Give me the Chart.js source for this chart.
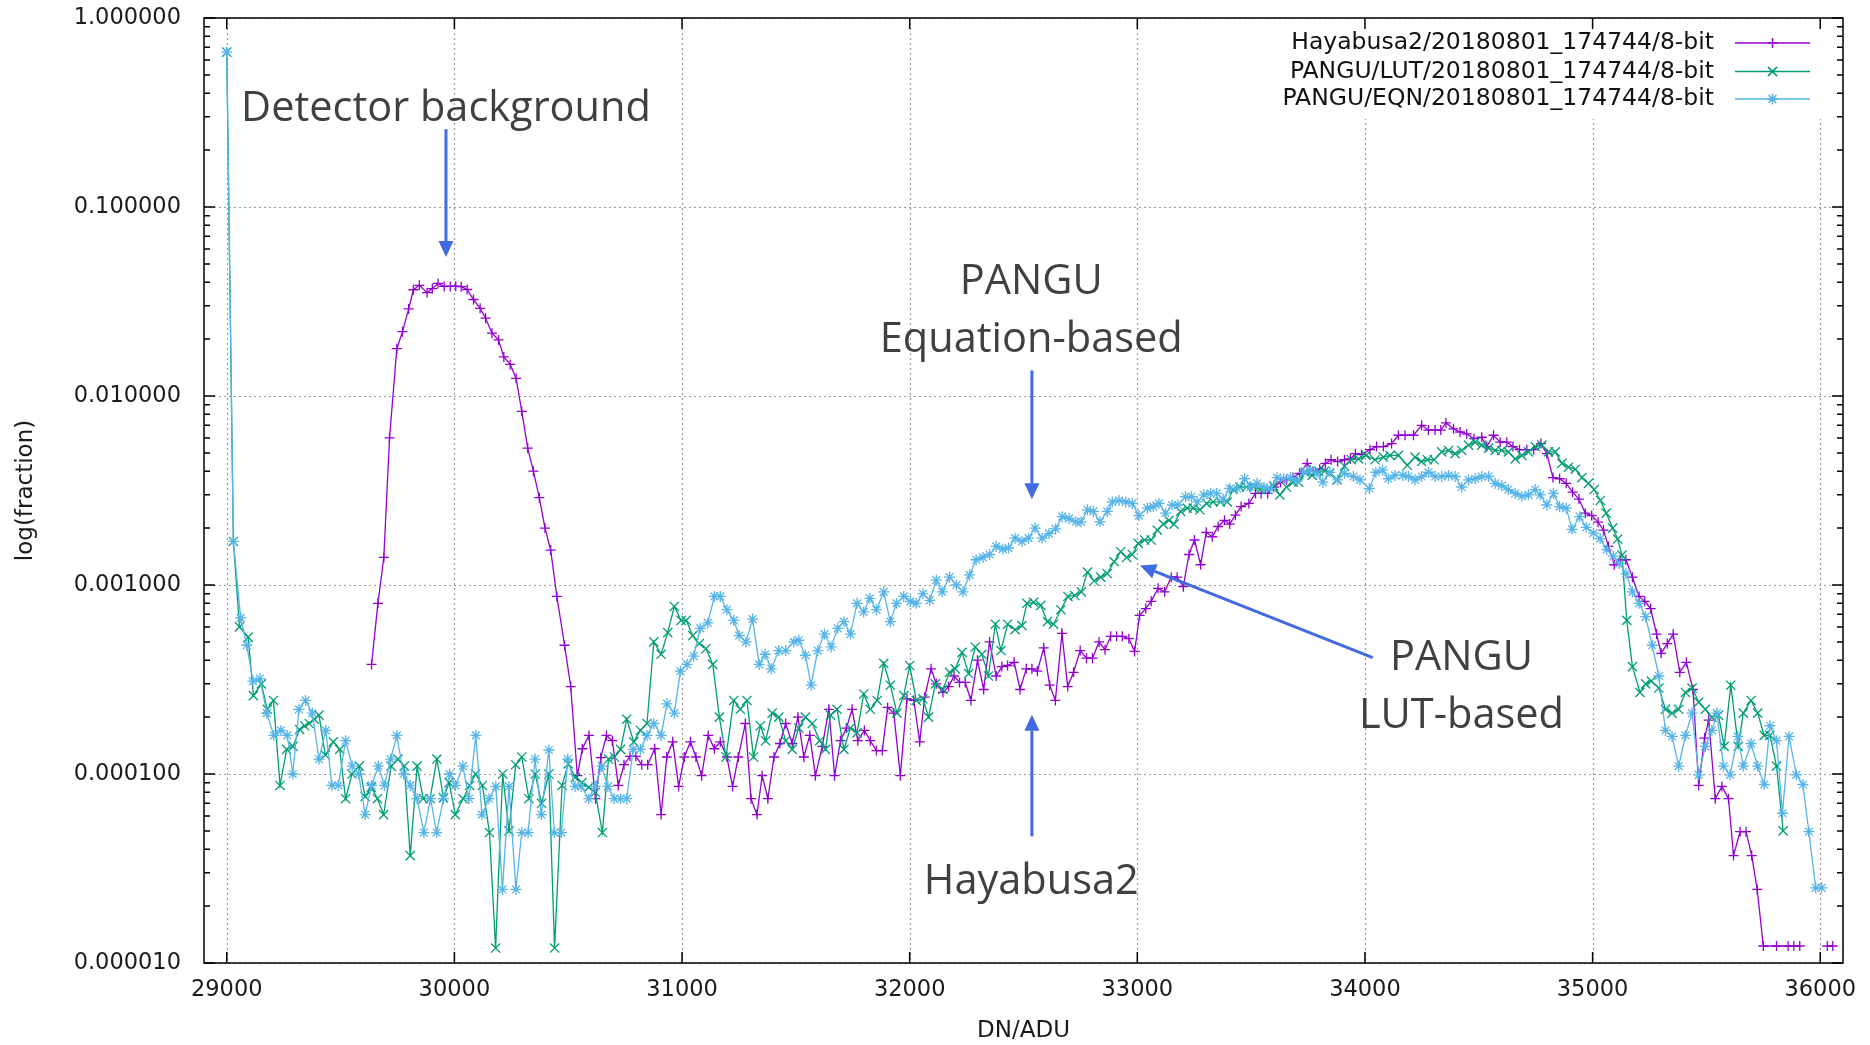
<!DOCTYPE html>
<html><head><meta charset="utf-8">
<script src="https://cdn.jsdelivr.net/npm/chart.js@4.4.1/dist/chart.umd.min.js"></script>
<style>html,body{margin:0;padding:0;background:#fff}#wrap{width:1870px;height:1045px;position:relative}</style>
</head><body><div id="wrap"><canvas id="c" width="1870" height="1045"></canvas></div>
<script>
const xTicks = [29000,30000,31000,32000,33000,34000,35000,36000];
const yTicks = [0.00001,0.0001,0.001,0.01,0.1,1];
const seriesNames = ['Hayabusa2/20180801_174744/8-bit','PANGU/LUT/20180801_174744/8-bit','PANGU/EQN/20180801_174744/8-bit'];

const hayDN = [29636,29664,29690,29715,29747,29772,29799,29820,29846,29880,29903,29928,29955,29982,30006,30030,30056,30084,30113,30137,
30165,30194,30217,30245,30271,30296,30322,30347,30373,30398,30423,30450,30484,30511,30540,30562,30591,30620,30643,30668,
30694,30720,30745,30771,30797,30823,30849,30880,30908,30933,30959,30985,31010,31037,31061,31086,31115,31142,31168,31197,
31222,31247,31278,31303,31329,31352,31377,31404,31430,31455,31484,31509,31535,31561,31586,31616,31645,31670,31696,31722,
31747,31772,31801,31827,31854,31880,31903,31930,31959,31988,32018,32044,32066,32094,32117,32146,32171,32195,32219,32244,
32269,32298,32325,32351,32380,32405,32430,32459,32485,32512,32537,32561,32589,32615,32640,32669,32694,32720,32749,32777,
32803,32832,32858,32883,32909,32934,32963,32988,33010,33037,33061,33091,33120,33149,33175,33202,33227,33251,33278,33303,
33329,33355,33383,33406,33431,33456,33490,33519,33544,33573,33599,33629,33655,33684,33713,33746,33772,33801,33826,33851,
33880,33910,33936,33958,33985,34022,34051,34081,34117,34147,34176,34213,34249,34279,34308,34333,34356,34389,34418,34447,
34479,34513,34535,34565,34594,34623,34650,34679,34711,34741,34773,34799,34826,34855,34884,34912,34940,34968,34996,35024,
35048,35070,35095,35121,35146,35175,35204,35229,35255,35281,35301,35328,35354,35383,35412,35441,35466,35492,35510,35539,
35568,35597,35619,35648,35674,35699,35723,35750,35808,35859,35884,35910,35970,36031,36055];
const hayVal = [3.8e-4,8.0e-4,1.4e-3,6.0e-3,0.0178,0.0219,0.0289,0.0365,0.0385,0.0352,0.0370,0.0394,0.0380,0.0380,0.0381,0.0379,0.0366,0.0324,0.0291,0.0258,
0.0215,0.0198,0.0161,0.0147,0.0124,0.0083,0.0053,0.0040,0.0029,0.0020,0.00153,8.7e-4,4.8e-4,2.9e-4,9.8e-5,1.36e-4,1.6e-4,7.4e-5,1.22e-4,1.6e-4,
1.5e-4,8.7e-5,1.12e-4,1.24e-4,1.24e-4,1.12e-4,1.12e-4,1.36e-4,6.1e-5,1.23e-4,1.48e-4,8.6e-5,1.23e-4,1.48e-4,1.23e-4,9.8e-5,1.6e-4,1.36e-4,1.48e-4,1.23e-4,
8.6e-5,1.23e-4,1.85e-4,7.4e-5,6.1e-5,9.8e-5,7.4e-5,1.23e-4,1.45e-4,1.85e-4,1.45e-4,2.0e-4,1.23e-4,1.6e-4,9.8e-5,1.4e-4,2.2e-4,9.8e-5,1.5e-4,1.75e-4,
2.2e-4,1.5e-4,1.7e-4,1.5e-4,1.33e-4,1.33e-4,2.25e-4,2.1e-4,9.8e-5,2.5e-4,2.45e-4,1.48e-4,2.55e-4,3.6e-4,3.0e-4,2.7e-4,2.9e-4,3.3e-4,3.05e-4,3.05e-4,
2.45e-4,4.0e-4,2.8e-4,5.0e-4,3.3e-4,3.7e-4,3.75e-4,3.9e-4,2.8e-4,3.6e-4,3.6e-4,3.5e-4,4.65e-4,2.95e-4,2.45e-4,5.55e-4,2.9e-4,3.45e-4,4.5e-4,4.1e-4,
4.1e-4,5.0e-4,4.55e-4,5.35e-4,5.35e-4,5.35e-4,5.2e-4,4.45e-4,6.9e-4,7.5e-4,8.2e-4,9.6e-4,9.2e-4,1.1e-3,1.1e-3,9.8e-4,1.45e-3,1.73e-3,1.28e-3,1.9e-3,
1.8e-3,2.04e-3,2.2e-3,2.1e-3,2.34e-3,2.6e-3,2.7e-3,3.05e-3,3.05e-3,3.05e-3,3.3e-3,3.5e-3,3.6e-3,3.7e-3,3.9e-3,4.4e-3,4.0e-3,4.1e-3,4.4e-3,4.6e-3,
4.5e-3,4.6e-3,4.65e-3,4.95e-3,4.9e-3,5.2e-3,5.4e-3,5.4e-3,5.6e-3,6.2e-3,6.2e-3,6.2e-3,7.0e-3,6.6e-3,6.6e-3,6.6e-3,7.2e-3,6.7e-3,6.45e-3,6.3e-3,
5.95e-3,6.05e-3,5.4e-3,6.2e-3,5.7e-3,5.7e-3,5.4e-3,5.2e-3,5.2e-3,5.2e-3,5.6e-3,4.95e-3,3.7e-3,3.65e-3,3.45e-3,3.1e-3,2.85e-3,2.4e-3,2.33e-3,2.15e-3,
1.95e-3,1.6e-3,1.28e-3,1.36e-3,1.36e-3,1.1e-3,8.7e-4,8.2e-4,7.5e-4,5.5e-4,4.35e-4,4.9e-4,5.5e-4,3.45e-4,3.9e-4,2.8e-4,8.7e-5,1.55e-4,1.93e-4,7.4e-5,
8.6e-5,7.4e-5,3.7e-5,4.95e-5,4.95e-5,3.7e-5,2.45e-5,1.23e-5,1.23e-5,1.23e-5,1.23e-5,1.23e-5,null,1.23e-5,1.23e-5];

const lutDN = [29000,29029,29056,29094,29117,29152,29178,29205,29234,29263,29291,29320,29342,29362,29384,29405,29433,29468,29496,29522,
29550,29582,29608,29635,29662,29689,29722,29752,29780,29806,29836,29863,29893,29923,29952,29977,30004,30038,30067,30093,
30123,30154,30181,30212,30240,30269,30296,30327,30355,30383,30415,30440,30473,30500,30531,30560,30590,30619,30650,30677,
30703,30730,30757,30788,30817,30846,30876,30908,30937,30966,30996,31018,31047,31076,31105,31135,31164,31193,31227,31256,
31285,31314,31344,31367,31396,31425,31455,31484,31513,31542,31572,31605,31630,31652,31681,31711,31740,31769,31798,31827,
31857,31886,31915,31944,31974,32000,32029,32058,32083,32113,32146,32175,32200,32230,32259,32288,32317,32346,32376,32401,
32430,32463,32493,32515,32544,32576,32605,32632,32664,32695,32725,32754,32781,32810,32839,32868,32898,32927,32953,32978,
33004,33032,33061,33088,33114,33139,33161,33190,33219,33246,33275,33304,33333,33365,33395,33421,33450,33480,33512,33541,
33570,33599,33626,33655,33684,33709,33738,33768,33797,33822,33845,33877,33910,33940,33972,34005,34044,34081,34110,34147,
34186,34220,34249,34274,34304,34337,34367,34396,34425,34455,34484,34513,34543,34572,34601,34630,34660,34689,34718,34748,
34777,34806,34836,34865,34894,34924,34953,34982,35007,35034,35060,35088,35110,35129,35150,35175,35208,35233,35258,35291,
35320,35349,35378,35408,35437,35466,35495,35524,35553,35578,35607,35640,35662,35696,35725,35754,35779,35808,35837];
const lutVal = [0.66,1.7e-3,6.0e-4,5.3e-4,2.6e-4,3.0e-4,2.2e-4,2.45e-4,8.7e-5,1.35e-4,1.4e-4,1.72e-4,1.8e-4,1.85e-4,1.95e-4,2.05e-4,1.26e-4,1.48e-4,1.35e-4,7.4e-5,
1.0e-4,1.1e-4,7.6e-5,8.5e-5,7.4e-5,6.1e-5,1.1e-4,1.2e-4,1.1e-4,3.7e-5,1.1e-4,7.4e-5,7.4e-5,1.2e-4,7.5e-5,9.0e-5,6.1e-5,7.4e-5,8.7e-5,1.0e-4,
8.7e-5,4.9e-5,1.2e-5,1.0e-4,5.0e-5,1.12e-4,1.23e-4,7.4e-5,1.0e-4,7.0e-5,1.0e-4,1.2e-5,8.7e-5,1.13e-4,9.6e-5,9.0e-5,8.5e-5,8.0e-5,4.9e-5,1.2e-4,
1.23e-4,1.35e-4,1.95e-4,1.48e-4,1.7e-4,1.85e-4,5.0e-4,4.3e-4,5.6e-4,7.7e-4,6.5e-4,6.5e-4,5.4e-4,4.9e-4,4.6e-4,3.8e-4,2.0e-4,1.23e-4,2.45e-4,2.2e-4,
2.45e-4,1.23e-4,1.8e-4,1.5e-4,2.1e-4,2.0e-4,1.5e-4,1.35e-4,1.75e-4,2.0e-4,1.85e-4,1.5e-4,1.35e-4,2.05e-4,2.2e-4,1.35e-4,1.75e-4,1.65e-4,2.65e-4,2.2e-4,
2.45e-4,3.85e-4,2.95e-4,2.1e-4,2.6e-4,3.75e-4,2.45e-4,2.5e-4,2.0e-4,3.0e-4,2.8e-4,3.45e-4,3.6e-4,4.4e-4,3.4e-4,4.7e-4,4.3e-4,3.3e-4,6.2e-4,4.5e-4,
6.2e-4,5.8e-4,6.1e-4,8.0e-4,8.1e-4,7.8e-4,6.4e-4,6.2e-4,7.4e-4,8.7e-4,8.8e-4,9.2e-4,1.17e-3,1.05e-3,1.1e-3,1.15e-3,1.33e-3,1.5e-3,1.4e-3,1.45e-3,
1.66e-3,1.73e-3,1.73e-3,1.95e-3,2.1e-3,2.2e-3,2.1e-3,2.45e-3,2.55e-3,2.55e-3,2.5e-3,2.7e-3,2.75e-3,2.75e-3,2.75e-3,3.2e-3,3.3e-3,3.3e-3,3.3e-3,3.2e-3,
3.2e-3,3.35e-3,3.0e-3,3.3e-3,3.5e-3,3.5e-3,3.95e-3,3.8e-3,4.0e-3,4.0e-3,3.9e-3,3.6e-3,4.25e-3,4.6e-3,4.65e-3,4.85e-3,4.6e-3,4.75e-3,4.85e-3,4.85e-3,
4.3e-3,4.75e-3,4.5e-3,4.6e-3,4.6e-3,5.06e-3,5.15e-3,4.95e-3,5.15e-3,5.5e-3,5.7e-3,5.5e-3,5.3e-3,5.15e-3,5.15e-3,5.06e-3,4.65e-3,4.85e-3,5.06e-3,5.4e-3,
5.5e-3,5.06e-3,5.06e-3,4.4e-3,4.2e-3,4.1e-3,3.7e-3,3.45e-3,3.2e-3,2.8e-3,2.4e-3,2.0e-3,1.75e-3,1.44e-3,6.5e-4,3.7e-4,2.7e-4,3.0e-4,3.1e-4,2.85e-4,
2.2e-4,2.1e-4,2.2e-4,2.7e-4,2.85e-4,2.4e-4,2.2e-4,2.0e-4,2.05e-4,1.4e-4,2.95e-4,1.4e-4,2.1e-4,2.45e-4,2.1e-4,1.6e-4,1.6e-4,1.1e-4,5.0e-5];

const eqnDN = [29000,29029,29061,29088,29115,29146,29176,29207,29238,29266,29290,29317,29346,29376,29405,29435,29462,29490,29522,29551,
29579,29608,29636,29666,29693,29720,29747,29777,29806,29836,29866,29895,29922,29952,29979,30005,30037,30064,30094,30121,
30152,30182,30211,30240,30270,30296,30324,30354,30382,30415,30439,30470,30498,30530,30557,30590,30618,30647,30674,30702,
30730,30757,30785,30817,30846,30876,30908,30934,30966,30993,31022,31051,31080,31113,31142,31168,31197,31227,31251,31281,
31310,31339,31365,31392,31425,31455,31491,31513,31542,31567,31596,31626,31655,31684,31711,31740,31769,31798,31825,31854,
31886,31915,31942,31974,32003,32029,32058,32088,32117,32143,32175,32205,32234,32263,32292,32322,32351,32380,32409,32434,
32463,32493,32522,32551,32582,32612,32641,32670,32700,32730,32753,32781,32807,32836,32868,32890,32920,32949,32978,33007,
33044,33070,33095,33124,33153,33178,33212,33237,33263,33292,33322,33348,33377,33406,33439,33471,33497,33526,33556,33585,
33614,33643,33673,33702,33731,33760,33789,33815,33846,33880,33910,33949,33978,34019,34048,34078,34103,34132,34166,34191,
34220,34249,34279,34308,34337,34367,34396,34425,34455,34484,34513,34543,34572,34601,34630,34660,34689,34718,34748,34770,
34799,34828,34855,34884,34910,34943,34972,35004,35033,35062,35091,35117,35147,35175,35204,35233,35262,35291,35320,35349,
35378,35408,35437,35466,35495,35524,35546,35575,35604,35638,35662,35696,35725,35754,35779,35808,35834,35863,35895,35924,
35950,35980,36006];
const eqnVal = [0.66,1.7e-3,6.7e-4,4.8e-4,3.1e-4,3.2e-4,2.1e-4,1.6e-4,1.7e-4,1.6e-4,1.0e-4,2.2e-4,2.45e-4,2.1e-4,1.2e-4,1.7e-4,8.7e-5,8.7e-5,1.5e-4,1.1e-4,
1.0e-4,6.1e-5,8.7e-5,1.1e-4,8.7e-5,1.2e-4,1.6e-4,1.0e-4,8.7e-5,7.4e-5,4.9e-5,7.4e-5,4.9e-5,7.4e-5,1.0e-4,8.7e-5,1.1e-4,7.4e-5,1.6e-4,6.1e-5,
7.4e-5,8.6e-5,2.45e-5,8.6e-5,2.45e-5,4.9e-5,4.9e-5,1.2e-4,6.1e-5,1.34e-4,4.9e-5,4.9e-5,1.2e-4,8.6e-5,8.6e-5,7.4e-5,8.6e-5,1.1e-4,8.6e-5,7.4e-5,
7.4e-5,7.4e-5,1.35e-4,1.35e-4,1.6e-4,1.85e-4,1.6e-4,2.35e-4,2.1e-4,3.5e-4,3.8e-4,4.2e-4,5.9e-4,6.3e-4,8.7e-4,8.7e-4,7.4e-4,6.5e-4,5.4e-4,5.0e-4,
6.6e-4,3.8e-4,4.3e-4,3.6e-4,4.5e-4,4.5e-4,5.0e-4,5.1e-4,4.25e-4,2.95e-4,4.5e-4,5.5e-4,4.7e-4,5.9e-4,6.4e-4,5.5e-4,8.0e-4,7.2e-4,8.5e-4,7.4e-4,
9.2e-4,6.4e-4,8.0e-4,8.7e-4,8.2e-4,8.0e-4,9.0e-4,8.3e-4,1.06e-3,9.2e-4,1.1e-3,1.0e-3,9.2e-4,1.13e-3,1.36e-3,1.4e-3,1.45e-3,1.6e-3,1.55e-3,1.57e-3,
1.77e-3,1.7e-3,1.77e-3,2.0e-3,1.77e-3,1.87e-3,1.98e-3,2.3e-3,2.25e-3,2.16e-3,2.16e-3,2.5e-3,2.45e-3,2.16e-3,2.45e-3,2.75e-3,2.8e-3,2.75e-3,2.7e-3,2.33e-3,
2.55e-3,2.6e-3,2.7e-3,2.4e-3,2.65e-3,2.65e-3,2.93e-3,2.93e-3,2.75e-3,3.0e-3,3.05e-3,3.05e-3,2.85e-3,3.24e-3,3.24e-3,3.65e-3,3.3e-3,3.45e-3,3.3e-3,3.24e-3,
3.7e-3,3.65e-3,3.7e-3,3.55e-3,3.95e-3,4.05e-3,3.9e-3,3.5e-3,3.95e-3,3.6e-3,3.9e-3,3.75e-3,3.6e-3,3.24e-3,3.95e-3,4.05e-3,3.65e-3,3.8e-3,3.8e-3,3.75e-3,
3.6e-3,3.75e-3,3.95e-3,3.75e-3,3.75e-3,3.8e-3,3.75e-3,3.3e-3,3.6e-3,3.65e-3,3.75e-3,3.75e-3,3.45e-3,3.35e-3,3.2e-3,3.05e-3,2.95e-3,3.0e-3,3.2e-3,3.0e-3,
2.65e-3,3.05e-3,2.6e-3,2.55e-3,1.97e-3,2.3e-3,2.02e-3,1.88e-3,1.76e-3,1.54e-3,1.42e-3,1.3e-3,1.15e-3,9.2e-4,8.0e-4,6.8e-4,4.8e-4,3.3e-4,1.7e-4,1.58e-4,
1.1e-4,1.6e-4,2.1e-4,9.9e-5,1.4e-4,1.7e-4,2.1e-4,1.1e-4,9.9e-5,1.58e-4,1.1e-4,1.45e-4,1.1e-4,8.8e-5,1.8e-4,1.5e-4,6.2e-5,1.58e-4,9.9e-5,8.8e-5,
4.95e-5,2.5e-5,2.5e-5];

// annotation anchors in data units: [DN, fraction]
const noteDetector = {text:['Detector background'], at:[29963, 0.34], arrow:[[29963,0.258],[29963,0.0544]]};
const noteEqn = {text:['PANGU','Equation-based'], at:[32534, 0.0413], arrow:[[32537,0.01365],[32537,0.00284]]};
const noteHaya = {text:['Hayabusa2'], at:[32534, 2.77e-5], arrow:[[32537,4.68e-5],[32537,2.06e-4]]};
const noteLut = {text:['PANGU','LUT-based'], at:[34424, 4.27e-4], arrow:[[34034,4.13e-4],[33012,1.27e-3]]};

const colors = ['#9400D3','#009E73','#56B4E9'];
const markers = ['cross','crossRot','star'];
const radii = [5,6.5,5.5];

function pts(xs, ys){ return xs.map((x,i)=>({x:x, y:ys[i]})); }

const tickFont = {family:'DejaVu Sans', size:22.5};
const titleFont = {family:'DejaVu Sans', size:23};

function arrow(ctx, x1,y1,x2,y2){
  const ang = Math.atan2(y2-y1, x2-x1);
  const hl = 16, hw = 7.5;
  const bx = x2 - hl*Math.cos(ang), by = y2 - hl*Math.sin(ang);
  ctx.beginPath(); ctx.moveTo(x1,y1); ctx.lineTo(bx,by); ctx.stroke();
  ctx.beginPath();
  ctx.moveTo(x2,y2);
  ctx.lineTo(bx + hw*Math.sin(ang), by - hw*Math.cos(ang));
  ctx.lineTo(bx - hw*Math.sin(ang), by + hw*Math.cos(ang));
  ctx.closePath(); ctx.fill();
}

const frame = {
  id:'frame',
  beforeDatasetsDraw(chart){
    const {ctx, chartArea:a, scales:{x, y}} = chart;
    ctx.save();
    ctx.strokeStyle='#9a9a9a'; ctx.lineWidth=1.2; ctx.setLineDash([2,3]);
    xTicks.forEach(v=>{ const px=Math.round(x.getPixelForValue(v))+0.5; ctx.beginPath(); ctx.moveTo(px,a.top); ctx.lineTo(px,a.bottom); ctx.stroke(); });
    yTicks.forEach(v=>{ const py=Math.round(y.getPixelForValue(v))+0.5; ctx.beginPath(); ctx.moveTo(a.left,py); ctx.lineTo(a.right,py); ctx.stroke(); });
    ctx.setLineDash([]);
    ctx.fillStyle='#ffffff';
    ctx.fillRect(1268, a.top+1, a.right-1268-1, 100);
    ctx.restore();
  },
  afterDatasetsDraw(chart){
    const {ctx, chartArea:a, scales:{x, y}} = chart;
    ctx.save();
    ctx.strokeStyle='#000'; ctx.lineWidth=1.5;
    ctx.strokeRect(a.left, a.top, a.right-a.left, a.bottom-a.top);
    ctx.beginPath();
    xTicks.forEach(v=>{ const px=x.getPixelForValue(v);
      ctx.moveTo(px,a.bottom); ctx.lineTo(px,a.bottom-11);
      ctx.moveTo(px,a.top); ctx.lineTo(px,a.top+11); });
    for (let d=-5; d<=0; d++){
      for (let m=1; m<=9; m++){
        const v = m*Math.pow(10,d);
        if (v>1.0000001) continue;
        const py = y.getPixelForValue(v);
        const len = m===1 ? 11 : 6;
        ctx.moveTo(a.left,py); ctx.lineTo(a.left+len,py);
        ctx.moveTo(a.right,py); ctx.lineTo(a.right-len,py);
      }
    }
    ctx.stroke();
    ctx.restore();
  },
  afterDraw(chart){
    const {ctx, scales:{x, y}} = chart;
    ctx.save();
    // legend
    const rows = [43, 71.5, 99];
    ctx.font = '23.5px "DejaVu Sans"';
    ctx.textAlign='right'; ctx.textBaseline='middle';
    chart.data.datasets.forEach((ds)=>{
      const i = ds.seriesIndex, ry = rows[i];
      ctx.fillStyle='#111';
      ctx.fillText(seriesNames[i], 1714, ry);
      ctx.strokeStyle = colors[i]; ctx.lineWidth=1.5;
      ctx.beginPath(); ctx.moveTo(1735, ry); ctx.lineTo(1810, ry); ctx.stroke();
      Chart.helpers.drawPoint(ctx, {pointStyle:markers[i], radius:radii[i], borderWidth:1.3, rotation:0}, 1772.5, ry);
    });
    // annotations
    ctx.font = '41.5px "Open Sans"';
    ctx.textAlign='center'; ctx.textBaseline='middle';
    ctx.strokeStyle='#4169E1'; ctx.lineWidth=3;
    [noteDetector, noteEqn, noteHaya, noteLut].forEach(n=>{
      const cx = x.getPixelForValue(n.at[0]), cy = y.getPixelForValue(n.at[1]) + 3;
      ctx.fillStyle='#404040';
      n.text.forEach((t,k)=> ctx.fillText(t, cx, cy + k*58));
      ctx.fillStyle='#4169E1';
      arrow(ctx, x.getPixelForValue(n.arrow[0][0]), y.getPixelForValue(n.arrow[0][1]),
                 x.getPixelForValue(n.arrow[1][0]), y.getPixelForValue(n.arrow[1][1]));
    });
    ctx.restore();
  }
};

const dsets = [
  {xs:hayDN, ys:hayVal, idx:0, order:3},
  {xs:lutDN, ys:lutVal, idx:1, order:2},
  {xs:eqnDN, ys:eqnVal, idx:2, order:1}
].map(s=>({
  label: seriesNames[s.idx],
  seriesIndex: s.idx,
  order: s.order,
  data: pts(s.xs, s.ys),
  borderColor: colors[s.idx],
  backgroundColor: colors[s.idx],
  borderWidth: 1.3,
  pointStyle: markers[s.idx],
  pointRadius: radii[s.idx],
  pointBorderWidth: 1.3,
  pointBorderColor: colors[s.idx],
  pointHoverRadius: radii[s.idx],
  tension: 0,
  spanGaps: false,
  fill: false
}));

new Chart(document.getElementById('c'), {
  type: 'line',
  data: { datasets: dsets },
  plugins: [frame],
  options: {
    responsive: false,
    animation: false,
    devicePixelRatio: 1,
    layout: { autoPadding: false, padding: {top:18, right:27, left:0, bottom:0} },
    plugins: { legend:{display:false}, tooltip:{enabled:false} },
    scales: {
      x: {
        type:'linear', min:28900, max:36100,
        afterBuildTicks: s => { s.ticks = xTicks.map(v=>({value:v})); },
        afterFit: s => { s.height = 82; s.paddingLeft = 0; s.paddingRight = 0; s.paddingTop = 0; s.paddingBottom = 0; },
        grid: {display:false, drawTicks:false},
        border: {display:false},
        ticks: {font:tickFont, color:'#1a1a1a', padding:14, maxRotation:0, autoSkip:false, callback: v => String(v)},
        title: {display:true, text:'DN/ADU', font:titleFont, color:'#1a1a1a', padding:{top:0, bottom:0}}
      },
      y: {
        type:'logarithmic', min:0.00001, max:1,
        afterBuildTicks: s => { s.ticks = yTicks.map(v=>({value:v})); },
        afterFit: s => { s.width = 204; s.paddingTop = 0; s.paddingBottom = 0; s.paddingLeft = 0; s.paddingRight = 0; },
        grid: {display:false, drawTicks:false},
        border: {display:false},
        ticks: {font:tickFont, color:'#1a1a1a', padding:23, autoSkip:false, callback: v => Number(v).toFixed(6)},
        title: {display:true, text:'log(fraction)', font:titleFont, color:'#1a1a1a', padding:{top:12, bottom:0}}
      }
    }
  }
});
</script></body></html>
